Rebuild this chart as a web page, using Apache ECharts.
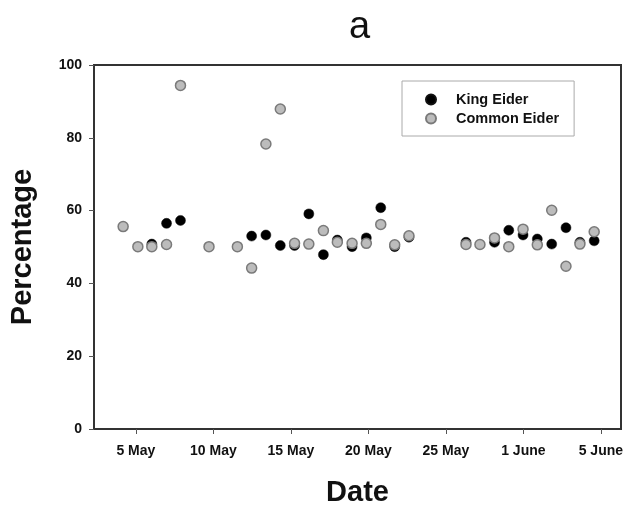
<!DOCTYPE html>
<html>
<head>
<meta charset="utf-8">
<script src="https://cdn.jsdelivr.net/npm/echarts@6/dist/echarts.min.js"></script>
<style>
  html, body { margin: 0; padding: 0; background: #ffffff; }
  #chart { width: 626px; height: 512px; }
</style>
</head>
<body>
<div id="chart"></div>
<script>
// Survey day position on the date axis (5 = 5 May ... 35 = 5 June)
var days = [4.18, 5.13, 6.03, 6.98, 7.88, 9.72, 11.55, 12.47, 13.39, 14.32,
            15.24, 16.16, 17.10, 18.00, 18.95, 19.87, 20.80, 21.70, 22.62, 26.30,
            27.20, 28.14, 29.06, 29.98, 30.90, 31.83, 32.75, 33.65, 34.57];

// Percentage per day for each species (null = no sample that day)
var kingEider = [null, null, 50.8, 56.5, 57.3, null, null, 53.0, 53.3, 50.4,
                 50.4, 59.1, 47.9, 51.9, 50.1, 52.5, 60.8, 50.1, 52.7, 51.3,
                 null, 51.3, 54.6, 53.3, 52.2, 50.8, 55.3, 51.3, 51.7];
var commonEider = [55.6, 50.1, 50.1, 50.7, 94.4, 50.1, 50.1, 44.2, 78.3, 87.9,
                   51.0, 50.8, 54.5, 51.3, 51.0, 51.0, 56.2, 50.6, 53.1, 50.7,
                   50.7, 52.5, 50.1, 54.9, 50.6, 60.1, 44.7, 50.8, 54.2];

// Date ticks and their labels
var dateTicks = [5, 10, 15, 20, 25, 30, 35];
var dateLabels = ['5 May', '10 May', '15 May', '20 May', '25 May', '1 June', '5 June'];
var pctTicks = [0, 20, 40, 60, 80, 100];

function pairs(values) {
  var out = [];
  for (var i = 0; i < days.length; i++) {
    if (values[i] !== null) out.push([days[i], values[i]]);
  }
  return out;
}

var FONT = '"Liberation Sans", Arial, Helvetica, sans-serif';
var chart = echarts.init(document.getElementById('chart'), null, { renderer: 'canvas' });

chart.setOption({
  animation: false,
  backgroundColor: '#ffffff',
  title: {
    text: 'a',
    left: 344,
    top: 4,
    textStyle: { fontFamily: FONT, fontSize: 38, fontWeight: 'normal', color: '#111' }
  },
  legend: {
    orient: 'vertical',
    left: 402,
    top: 81,
    padding: [11, 15, 10, 23],
    itemGap: 4,
    itemWidth: 10,
    itemHeight: 10,
    borderColor: '#aaa',
    borderWidth: 1,
    borderRadius: 0,
    textStyle: {
      fontFamily: FONT, fontSize: 14.5, fontWeight: 'bold', color: '#111',
      padding: [0, 0, 0, 15]
    },
    data: [
      { name: 'King Eider', icon: 'circle' },
      { name: 'Common Eider', icon: 'circle' }
    ]
  },
  grid: {
    left: 93,
    right: 5,
    top: 65,
    bottom: 77.5,
    show: true,
    borderColor: '#333',
    borderWidth: 2,
    backgroundColor: 'transparent'
  },
  xAxis: {
    type: 'value',
    min: 2.3,
    max: 36.3,
    name: 'Date',
    nameLocation: 'middle',
    nameGap: 49,
    nameTextStyle: { fontFamily: FONT, fontSize: 29, fontWeight: 'bold', color: '#111' },
    splitLine: { show: false },
    axisLine: { show: true, lineStyle: { color: '#333', width: 2 } },
    axisTick: {
      show: true,
      length: 5,
      lineStyle: { color: '#555', width: 1 },
      customValues: dateTicks
    },
    axisLabel: {
      margin: 15,
      fontFamily: FONT,
      fontSize: 14,
      fontWeight: 'bold',
      color: '#111',
      customValues: dateTicks,
      formatter: function (v) {
        var i = dateTicks.indexOf(Math.round(v));
        return i >= 0 ? dateLabels[i] : '';
      }
    }
  },
  yAxis: {
    type: 'value',
    min: 0,
    max: 100,
    interval: 20,
    name: 'Percentage',
    nameLocation: 'middle',
    nameGap: 57,
    nameTextStyle: { fontFamily: FONT, fontSize: 29, fontWeight: 'bold', color: '#111' },
    splitLine: { show: false },
    axisLine: { show: true, lineStyle: { color: '#333', width: 2 } },
    axisTick: {
      show: true,
      length: 5,
      lineStyle: { color: '#555', width: 1 },
      customValues: pctTicks
    },
    axisLabel: {
      margin: 12,
      fontFamily: FONT,
      fontSize: 14,
      fontWeight: 'bold',
      color: '#111',
      customValues: pctTicks
    }
  },
  series: [
    {
      name: 'King Eider',
      type: 'scatter',
      symbol: 'circle',
      symbolSize: 10,
      itemStyle: { color: '#000000', borderColor: '#111', borderWidth: 0.5, opacity: 1 },
      data: pairs(kingEider)
    },
    {
      name: 'Common Eider',
      type: 'scatter',
      symbol: 'circle',
      symbolSize: 10,
      itemStyle: { color: '#bcbcbc', borderColor: '#7a7a7a', borderWidth: 1.5, opacity: 1 },
      data: pairs(commonEider)
    }
  ]
});
</script>
</body>
</html>
